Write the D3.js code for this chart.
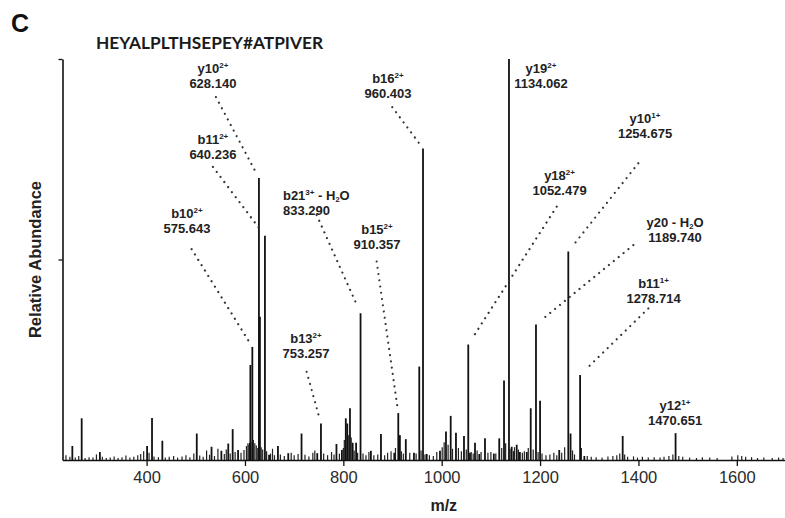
<!DOCTYPE html>
<html>
<head>
<meta charset="utf-8">
<script src="https://cdn.jsdelivr.net/npm/d3@7"></script>
<style>
  html, body { margin: 0; padding: 0; background: #fff; }
  svg { display: block; }
</style>
</head>
<body>
<svg id="chart" width="785" height="518"></svg>
<script>
// ---------------- DATA ----------------
const panelLetter = "C";
const peptide = "HEYALPLTHSEPEY#ATPIVER";
const xLabel = "m/z";
const yLabel = "Relative Abundance";
const xTicks = [400, 600, 800, 1000, 1200, 1400, 1600];
const yTicks = [50, 100];

// main peaks: [m/z, relative abundance %]
const peaks = [
  [249,3.5],[268,10.4],[305,2.0],[401,3.5],[411,10.5],[432,4.8],[502,6.6],[532,3.3],[552,2.3],
  [566,4.1],[575,7.7],[586,2.5],[610,4.3],[611,23.7],[615,28.2],[628.4,70.3],[630.4,35.7],
  [640.6,55.9],[649,1.3],[667,3.5],[688,1.7],[715,6.6],[747,1.7],[754.5,9.1],[786,4.0],
  [797,2.5],[805,10.4],[808,9.1],[813.5,12.9],[819,4.3],[826,4.3],[835,36.6],[856,2.3],
  [876.5,6.5],[903.6,1.8],[911.7,11.7],[915,6.2],[927,5.2],[943.6,1.8],[954.4,23.3],[962,77.7],
  [969.5,1.5],[996.5,2.3],[1008.7,7.1],[1018.3,11.0],[1029,6.8],[1045.3,6.0],[1054,28.8],
  [1057.5,1.8],[1067.7,4.3],[1076.4,1.5],[1088,5.4],[1106,1.6],[1117,5.4],[1126.7,19.8],
  [1136.8,100],[1142.3,3.3],[1152.5,3.8],[1159,2.0],[1173,2.0],[1181,12.9],[1191.7,33.8],
  [1200,14.8],[1239,2.5],[1257.4,52.0],[1262,6.6],[1281.4,21.2],[1290,1.0],[1368,6.0],[1475.5,6.7]
];

// low-level baseline peaks: [m/z, relative abundance %]
const noisePeaks = [
  [236,1.2],[244,0.8],[255,0.6],[262,1.0],[275,0.5],[283,0.7],[291,0.6],[298,1.4],[310,0.8],
  [318,0.5],[326,0.6],[334,0.9],[342,0.5],[350,0.7],[358,1.1],[366,0.6],[374,0.8],[382,1.2],
  [388,1.5],[394,2.2],[405,1.8],[415,0.9],[424,0.7],[438,0.6],[446,0.8],[455,1.0],[463,0.6],
  [472,0.9],[480,1.2],[488,0.7],[496,1.6],[508,1.1],[515,0.8],[522,2.4],[528,1.3],[538,1.0],
  [545,2.8],[558,1.5],[562,2.6],[570,1.6],[580,2.0],[592,1.8],[598,2.5],[603,3.5],[606,4.2],
  [608,3.8],[612,4.5],[617,5.0],[620,4.2],[623,3.6],[626,3.0],[633,3.2],[636,2.6],[644,2.2],
  [652,1.6],[656,2.8],[660,1.2],[672,1.4],[680,1.0],[694,1.8],[700,1.2],[708,1.5],[722,1.3],
  [730,0.9],[738,1.8],[742,2.4],[760,1.6],[768,1.2],[776,2.0],[781,1.4],[792,1.6],[800,3.0],
  [802,5.0],[811,6.2],[816,5.6],[822,2.4],[829,1.8],[840,1.6],[846,1.2],[852,2.0],[862,1.2],
  [870,1.4],[884,1.2],[890,1.8],[897,2.2],[906,3.0],[918,2.2],[922,1.6],[935,1.8],[948,1.6],
  [958,2.4],[966,1.4],[975,1.2],[983,1.0],[990,2.0],[1001,3.2],[1005,4.4],[1013,3.8],[1022,2.8],
  [1034,3.0],[1040,2.2],[1050,2.6],[1060,2.0],[1064,1.6],[1072,2.4],[1080,2.0],[1094,1.8],
  [1100,2.0],[1110,1.6],[1122,3.0],[1130,4.2],[1139,2.8],[1146,2.2],[1148,3.2],[1156,2.6],
  [1164,1.8],[1168,2.2],[1176,3.0],[1186,2.6],[1196,2.0],[1204,1.6],[1212,1.2],[1220,1.4],
  [1228,1.8],[1234,1.2],[1244,1.8],[1250,3.2],[1266,2.4],[1270,1.4],[1284,3.0],[1296,1.0],
  [1304,0.8],[1314,0.7],[1326,0.6],[1338,0.9],[1348,1.0],[1356,1.2],[1362,1.6],[1372,1.4],
  [1378,0.8],[1390,0.9],[1398,0.6],[1408,0.8],[1420,0.6],[1432,0.7],[1444,0.6],[1452,0.8],
  [1462,1.0],[1470,1.4],[1482,1.0],[1490,0.8],[1504,0.6],[1518,0.5],[1530,0.7],[1545,0.6],
  [1560,0.5],[1590,0.9],[1602,1.2],[1610,1.0],[1618,0.8],[1630,0.7],[1642,0.5],[1655,0.6],
  [1672,0.5],[1685,0.6],[1694,0.5]
];

// fragment annotations: ion name, charge, water loss, m/z text, annotated peak,
// label anchor (lx m/z, ly %), leader start (sx m/z, sy %) in data units
const ionNames   = ["y10","b11","b10","b21","b15","b16","b13","y19","y18","y10","y20","b11","y12"];
const ionCharges = ["2+","2+","2+","3+","2+","2+","2+","2+","2+","1+","","1+","1+"];
const ionWater   = [false,false,false,true,false,false,false,false,false,false,true,false,false];
const ionMzText  = ["628.140","640.236","575.643","833.290","910.357","960.403","753.257",
                    "1134.062","1052.479","1254.675","1189.740","1278.714","1470.651"];
const ionPeakMz  = [628.4,640.6,615,835,911.7,962,754.5,1136.8,1054,1257.4,1191.7,1281.4,1475.5];
const labelMz    = [534.8,534.8,482,677.2,868.4,890.7,724,1201.9,1239.6,1413.4,1474.4,1430.7,1474.4];
const labelAb    = [96.5,78.8,60.4,64.8,56.4,94.1,29.2,96.5,69.8,84,58.1,42.9,12.5];
const labelAlign = ["middle","middle","middle","start","middle","middle","middle","middle","middle","middle","middle","middle","middle"];
const leaderMz   = [541,534.8,491.5,745.7,867.8,899.5,725.4,null,1233.9,1399.8,1389.6,1420.1,null];
const leaderAb   = [90.5,73.1,52.6,61.1,49.5,88,22,null,63.2,74,53.6,37.8,null];

// ---------------- CHART ----------------
const svg = d3.select("#chart");
const font = "'Liberation Sans', Arial, Helvetica, sans-serif";

const x = d3.scaleLinear().domain([229, 1698]).range([62.5, 785]);
const y = d3.scaleLinear().domain([0, 100]).range([460, 59]);

// panel letter & peptide
svg.append("text").attr("x", 11).attr("y", 32)
  .attr("font-family", font).attr("font-weight", "bold").attr("font-size", 25)
  .attr("fill", "#111").text(panelLetter);
svg.append("text").attr("x", 96).attr("y", 49)
  .attr("font-family", "Lato, 'Open Sans', sans-serif").attr("font-weight", "bold")
  .attr("font-size", 17.5).attr("fill", "#1a1a1a")
  .attr("textLength", 227).attr("lengthAdjust", "spacingAndGlyphs")
  .text(peptide);

// noise bars
svg.append("g").selectAll("line").data(noisePeaks).join("line")
  .attr("x1", d => x(d[0])).attr("x2", d => x(d[0]))
  .attr("y1", y(0)).attr("y2", d => y(d[1]))
  .attr("stroke", "#222").attr("stroke-width", 1.2);

// main bars
svg.append("g").selectAll("line").data(peaks).join("line")
  .attr("x1", d => x(d[0])).attr("x2", d => x(d[0]))
  .attr("y1", y(0)).attr("y2", d => y(d[1]))
  .attr("stroke", "#111").attr("stroke-width", 1.8);

// axes
const xAxis = d3.axisBottom(x).tickValues(xTicks).tickFormat(d3.format("d"))
  .tickSize(6).tickPadding(5).tickSizeOuter(0);
const gx = svg.append("g").attr("transform", `translate(0,${y(0)})`).call(xAxis);
gx.select(".domain").attr("stroke", "#111").attr("stroke-width", 1.6);
gx.selectAll(".tick line").attr("stroke", "#111").attr("stroke-width", 1.3);
gx.selectAll(".tick text").attr("font-family", font).attr("font-size", 16.5).attr("fill", "#2a2a2a");

const yAxis = d3.axisLeft(y).tickValues(yTicks).tickSize(4).tickFormat("").tickSizeOuter(0);
const gy = svg.append("g").attr("transform", `translate(${x.range()[0]},0)`).call(yAxis);
gy.select(".domain").attr("stroke", "#111").attr("stroke-width", 1.6);
gy.selectAll(".tick line").attr("stroke", "#111").attr("stroke-width", 1.3);

// axis titles
svg.append("text").attr("x", (x.range()[0] + x.range()[1]) / 2 + 20).attr("y", 511)
  .attr("text-anchor", "middle").attr("font-family", font).attr("font-weight", "bold")
  .attr("font-size", 16).attr("fill", "#222").text(xLabel);
svg.append("text").attr("transform", `translate(41,${y(50)}) rotate(-90)`)
  .attr("text-anchor", "middle").attr("font-family", font).attr("font-weight", "bold")
  .attr("font-size", 16.5).attr("fill", "#222").text(yLabel);

// annotations
const ann = ionNames.map((n, i) => ({
  name: n, charge: ionCharges[i], water: ionWater[i], mzText: ionMzText[i],
  peak: ionPeakMz[i], peakAb: peaks.find(p => p[0] === ionPeakMz[i])[1],
  lx: labelMz[i], ly: labelAb[i], align: labelAlign[i],
  sx: leaderMz[i], sy: leaderAb[i]
}));

const gA = svg.append("g").attr("font-family", font).attr("font-weight", "bold").attr("fill", "#222");
ann.forEach(a => {
  const t1 = gA.append("text").attr("x", x(a.lx)).attr("y", y(a.ly))
    .attr("text-anchor", a.align).attr("font-size", 13);
  t1.append("tspan").text(a.name);
  let shift = 0;
  if (a.charge) { t1.append("tspan").attr("font-size", 8).attr("dy", -5).text(a.charge); shift = 5; }
  if (a.water) {
    t1.append("tspan").attr("font-size", 13).attr("dy", shift).text(" - H");
    t1.append("tspan").attr("font-size", 7.5).attr("dy", 2).text("2");
    t1.append("tspan").attr("font-size", 13).attr("dy", -2).text("O");
  }
  gA.append("text").attr("x", x(a.lx)).attr("y", y(a.ly) + 15)
    .attr("text-anchor", a.align).attr("font-size", 13).text(a.mzText);

  if (a.sx !== null) {
    const sx = x(a.sx), sy = y(a.sy);
    const px = x(a.peak), py = y(a.peakAb);
    const dx = px - sx, dy = py - sy, L = Math.hypot(dx, dy);
    const ex = px - dx / L * 7, ey = py - dy / L * 7;
    svg.append("line").attr("x1", sx).attr("y1", sy).attr("x2", ex).attr("y2", ey)
      .attr("stroke", "#333").attr("stroke-width", 2.2)
      .attr("stroke-linecap", "round").attr("stroke-dasharray", "0.01 6.3");
  }
});
</script>
</body>
</html>
